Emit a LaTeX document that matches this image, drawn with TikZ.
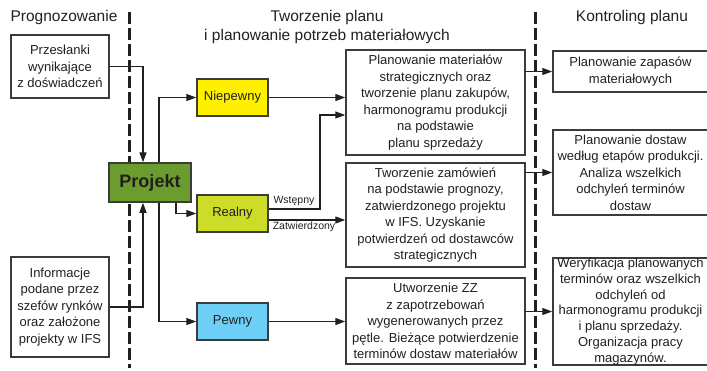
\documentclass[tikz,border=0pt]{standalone}
\usepackage{fontspec}
\setmainfont{Liberation Sans}
\usepackage{tikz}
\usetikzlibrary{arrows.meta, positioning}
\definecolor{inkgray}{RGB}{35, 31, 32}
\definecolor{edgegray}{RGB}{60, 60, 60}
\definecolor{projgreen}{RGB}{106, 156, 46}
\definecolor{unsureyellow}{RGB}{255, 240, 0}
\definecolor{realgreen}{RGB}{205, 220, 41}
\definecolor{sureblue}{RGB}{109, 207, 246}

\begin{document}
\begin{tikzpicture}[
    x=1pt, y=-1pt,
    textbox/.style={
        rectangle,
        draw=edgegray,
        line width=1.5pt,
        fill=white,
        inner sep=0pt,
        align=center,
        text=inkgray,
        font=\fontsize{13}{16.5}\selectfont
    },
    statebox/.style={
        textbox,
        minimum width=71pt,
        minimum height=37pt
    },
    header/.style={
        align=center,
        text=inkgray,
        font=\fontsize{15.5}{19}\selectfont
    },
    linklabel/.style={
        text=inkgray,
        inner sep=0pt,
        font=\fontsize{10.5}{12}\selectfont
    },
    arr/.style={
        -{Triangle[length=10pt, width=7pt]},
        line width=1.3pt,
        draw=inkgray
    },
    separator/.style={
        line width=3pt,
        draw=inkgray,
        dash pattern=on 12pt off 4pt
    }
]
    \useasboundingbox (0,0) rectangle (707,370);

    % Phase separators
    \draw[separator] (129,12) -- (129,368);
    \draw[separator] (535,12) -- (535,368);

    % Headers
    \node[header] (hprog) at (64,17) {Prognozowanie};
    \node[header] (hplan) at (327,26.5) {Tworzenie planu\\i planowanie potrzeb materiałowych};
    \node[header] (hctrl) at (632,17) {Kontroling planu};

    % Forecast inputs
    \node[textbox, minimum width=98pt, minimum height=63pt] (prz) at (60,66.5) {
        Przesłanki\\
        wynikające\\
        z doświadczeń
    };
    \node[textbox, minimum width=98pt, minimum height=100pt] (inf) at (60,307) {
        Informacje\\
        podane przez\\
        szefów rynków\\
        oraz założone\\
        projekty w IFS
    };

    % Project
    \node[textbox, fill=projgreen, minimum width=82pt, minimum height=39pt,
          font=\fontsize{18}{20}\selectfont\bfseries] (proj) at (150,182.5) {Projekt};

    % Project states
    \node[statebox, fill=unsureyellow] (niep) at (232.5,97.5) {Niepewny};
    \node[statebox, fill=realgreen] (real) at (232.5,213.5) {Realny};
    \node[statebox, fill=sureblue] (pew) at (232.5,321.5) {Pewny};

    % Planning
    \node[textbox, minimum width=179pt, minimum height=105pt] (plan1) at (435.5,102.5) {
        Planowanie materiałów\\
        strategicznych oraz\\
        tworzenie planu zakupów,\\
        harmonogramu produkcji\\
        na podstawie\\
        planu sprzedaży
    };
    \node[textbox, minimum width=179pt, minimum height=104pt] (plan2) at (435.5,215) {
        Tworzenie zamówień\\
        na podstawie prognozy,\\
        zatwierdzonego projektu\\
        w IFS. Uzyskanie\\
        potwierdzeń od dostawców\\
        strategicznych
    };
    \node[textbox, minimum width=179pt, minimum height=86pt] (plan3) at (435.5,321) {
        Utworzenie ZZ\\
        z zapotrzebowań\\
        wygenerowanych przez\\
        pętle. Bieżące potwierdzenie\\
        terminów dostaw materiałów
    };

    % Controlling
    \node[textbox, minimum width=155pt, minimum height=41pt] (ctl1) at (630.5,71.5) {
        Planowanie zapasów\\
        materiałowych
    };
    \node[textbox, minimum width=155pt, minimum height=85pt] (ctl2) at (630.5,172.5) {
        Planowanie dostaw\\
        według etapów produkcji.\\
        Analiza wszelkich\\
        odchyleń terminów\\
        dostaw
    };
    \node[textbox, minimum width=155pt, minimum height=107pt,
          font=\fontsize{13}{15.8}\selectfont] (ctl3) at (630.5,311.5) {
        Weryfikacja planowanych\\
        terminów oraz wszelkich\\
        odchyleń od\\
        harmonogramu produkcji\\
        i planu sprzedaży.\\
        Organizacja pracy\\
        magazynów.
    };

    % Inputs to project
    \draw[arr] (prz.east) -| ([xshift=-7pt]proj.north);
    \draw[arr] (inf.east) -| ([xshift=-7pt]proj.south);

    % Project to states
    \draw[arr] ([xshift=9pt]proj.north) |- (niep.west);
    \draw[arr] ([xshift=26pt]proj.south) |- (real.west);
    \draw[arr] ([xshift=9pt]proj.south) |- (pew.west);

    % States to planning
    \coordinate (rw) at ([yshift=4.5pt]real.east);
    \coordinate (rz) at ([yshift=-6.5pt]real.east);
    \coordinate (bend) at (320,115);
    \draw[arr] (niep.east) -- (niep.east -| plan1.west);
    \draw[arr] (rw) -| (bend) -- (bend -| plan1.west);
    \draw[arr] (rz) -- (rz -| plan2.west);
    \draw[arr] (pew.east) -- (pew.east -| plan3.west);
    \node[linklabel, anchor=south] (lwst) at (294,206) {Wstępny};
    \node[linklabel, anchor=north] (lzat) at (304,222) {Zatwierdzony};

    % Planning to controlling
    \draw[arr] (plan1.east |- ctl1.west) -- (ctl1.west);
    \draw[arr] (plan2.east |- ctl2.west) -- (ctl2.west);
    \draw[arr] (plan3.east |- ctl3.west) -- (ctl3.west);
\end{tikzpicture}
\end{document}
